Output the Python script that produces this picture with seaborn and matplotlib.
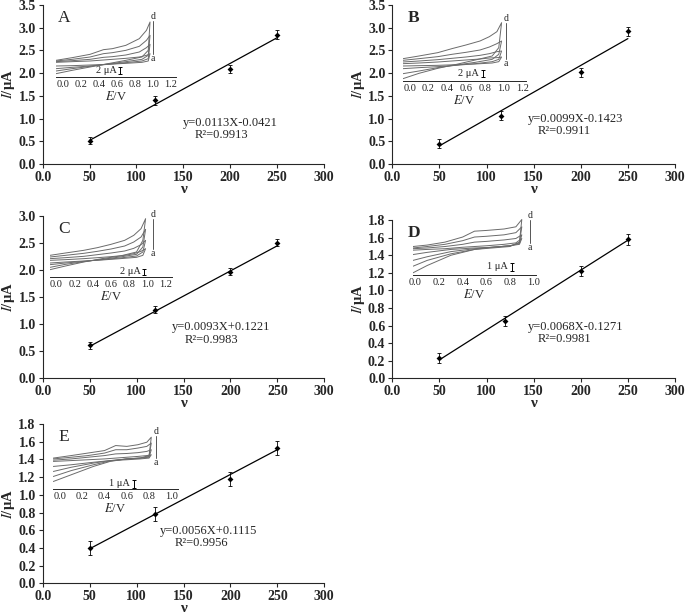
import matplotlib
matplotlib.use("Agg")
import matplotlib.pyplot as plt
import seaborn as sns

W, H = 685, 614

# ---- peak current vs scan rate (main panels) ----
fit_rates = [50, 250]
x_ticks = [0, 50, 100, 150, 200, 250, 300]
x_ticklabels = ["0.0", "50", "100", "150", "200", "250", "300"]

rates_A = [50, 120, 200, 250]
current_A = [0.51, 1.40, 2.09, 2.85]
err_A = [0.08, 0.10, 0.09, 0.10]
fit_A = [0.52, 2.78]
eq_A = "y=0.0113X-0.0421"
r2_A = "R²=0.9913"

rates_B = [50, 115, 200, 250]
current_B = [0.45, 1.06, 2.02, 2.92]
err_B = [0.10, 0.10, 0.10, 0.10]
fit_B = [0.40, 2.76]
eq_B = "y=0.0099X-0.1423"
r2_B = "R²=0.9911"

rates_C = [50, 120, 200, 250]
current_C = [0.61, 1.27, 1.97, 2.51]
err_C = [0.06, 0.06, 0.06, 0.06]
fit_C = [0.59, 2.45]
eq_C = "y=0.0093X+0.1221"
r2_C = "R²=0.9983"

rates_D = [50, 120, 200, 250]
current_D = [0.23, 0.65, 1.22, 1.58]
err_D = [0.06, 0.06, 0.06, 0.06]
fit_D = [0.21, 1.57]
eq_D = "y=0.0068X-0.1271"
r2_D = "R²=0.9981"

rates_E = [50, 120, 200, 250]
current_E = [0.40, 0.78, 1.18, 1.53]
err_E = [0.08, 0.08, 0.08, 0.08]
fit_E = [0.39, 1.51]
eq_E = "y=0.0056X+0.1115"
r2_E = "R²=0.9956"

yticks_35 = [0.0, 0.5, 1.0, 1.5, 2.0, 2.5, 3.0, 3.5]
yticks_30 = [0.0, 0.5, 1.0, 1.5, 2.0, 2.5, 3.0]
yticks_18 = [0.0, 0.2, 0.4, 0.6, 0.8, 1.0, 1.2, 1.4, 1.6, 1.8]

# ---- inset CV loops, curves a..d: forward scan then reverse scan (μA) ----
cv_fwd_E_A = [-0.08, 0.1, 0.3, 0.45, 0.55, 0.7, 0.85, 0.93, 0.97]
cv_rev_E_A = [0.95, 0.88, 0.7, 0.5, 0.3, 0.1, -0.08]
cv_fwd_A = [
    [4.4, 4.6, 4.8, 5.1, 5.3, 5.6, 6.0, 6.5, 7.0],
    [4.6, 4.9, 5.3, 5.9, 6.1, 6.6, 7.5, 8.8, 9.8],
    [4.8, 5.3, 6.0, 7.0, 7.3, 8.0, 9.2, 11.0, 12.5],
    [5.0, 5.8, 6.8, 8.2, 8.5, 9.5, 11.5, 14.0, 16.5],
]
cv_rev_A = [
    [4.8, 4.4, 4.1, 3.8, 3.6, 3.4, 3.3],
    [5.5, 4.8, 4.3, 3.8, 3.3, 2.9, 2.5],
    [6.5, 5.3, 4.6, 3.9, 3.2, 2.5, 1.8],
    [8.0, 6.0, 5.0, 4.0, 3.0, 2.0, 1.0],
]

cv_fwd_E_B = [-0.07, 0.1, 0.3, 0.45, 0.6, 0.75, 0.85, 0.93, 0.98]
cv_rev_E_B = [0.95, 0.88, 0.7, 0.5, 0.3, 0.1, -0.07]
cv_fwd_B = [
    [5.2, 5.4, 5.7, 6.0, 6.3, 6.6, 6.9, 7.0, 7.2],
    [5.7, 6.0, 6.4, 6.8, 7.2, 7.7, 8.2, 8.8, 9.0],
    [6.2, 6.7, 7.3, 8.0, 8.6, 9.3, 10.2, 11.2, 12.0],
    [6.7, 7.5, 8.5, 9.7, 10.8, 12.0, 13.3, 14.8, 17.5],
]
cv_rev_B = [
    [5.8, 5.4, 5.1, 4.9, 4.7, 4.6, 4.5],
    [6.5, 5.8, 5.2, 4.7, 4.3, 4.0, 3.7],
    [8.0, 6.5, 5.6, 4.8, 4.0, 3.0, 2.2],
    [10.0, 7.5, 6.3, 5.0, 3.8, 2.3, 0.7],
]

cv_fwd_E_C = [-0.07, 0.1, 0.3, 0.45, 0.6, 0.75, 0.85, 0.93, 0.98]
cv_rev_E_C = [0.95, 0.88, 0.7, 0.5, 0.3, 0.1, -0.07]
cv_fwd_C = [
    [5.0, 5.2, 5.5, 5.8, 6.1, 6.5, 7.0, 7.7, 8.5],
    [5.5, 5.8, 6.2, 6.7, 7.2, 7.8, 8.6, 9.7, 11.0],
    [6.0, 6.5, 7.1, 7.7, 8.4, 9.3, 10.5, 12.0, 14.3],
    [6.5, 7.2, 8.0, 8.8, 9.8, 11.0, 12.5, 14.5, 17.5],
]
cv_rev_C = [
    [6.5, 5.9, 5.5, 5.1, 4.8, 4.5, 4.2],
    [7.5, 6.3, 5.7, 5.2, 4.7, 4.2, 3.7],
    [9.0, 6.8, 6.0, 5.3, 4.6, 3.8, 2.9],
    [11.0, 7.5, 6.3, 5.5, 4.5, 3.3, 2.2],
]

cv_fwd_E_D = [-0.02, 0.1, 0.25, 0.4, 0.5, 0.6, 0.75, 0.85, 0.9]
cv_rev_E_D = [0.88, 0.8, 0.65, 0.5, 0.3, 0.1, -0.02]
cv_fwd_D = [
    [3.4, 3.5, 3.6, 3.8, 3.9, 4.0, 4.2, 4.4, 5.0],
    [3.6, 3.7, 3.9, 4.2, 4.5, 4.6, 4.8, 5.0, 5.5],
    [3.7, 3.9, 4.2, 4.7, 5.2, 5.3, 5.5, 5.8, 6.6],
    [3.9, 4.1, 4.5, 5.2, 6.0, 6.1, 6.3, 6.6, 7.6],
]
cv_rev_D = [
    [4.2, 4.0, 3.8, 3.7, 3.5, 3.1, 2.8],
    [4.3, 4.0, 3.8, 3.6, 3.2, 2.5, 2.0],
    [4.4, 4.0, 3.8, 3.5, 2.9, 2.0, 1.2],
    [4.5, 3.9, 3.7, 3.5, 2.7, 1.3, 0.3],
]

cv_fwd_E_E = [-0.06, 0.1, 0.25, 0.4, 0.5, 0.6, 0.7, 0.78, 0.82]
cv_rev_E_E = [0.8, 0.72, 0.6, 0.45, 0.3, 0.1, -0.06]
cv_fwd_E = [
    [3.3, 3.4, 3.5, 3.6, 3.7, 3.8, 3.9, 4.0, 4.1],
    [3.45, 3.6, 3.8, 4.0, 4.2, 4.25, 4.35, 4.5, 4.7],
    [3.6, 3.8, 4.0, 4.3, 4.7, 4.7, 4.9, 5.1, 5.5],
    [3.7, 4.0, 4.3, 4.6, 5.2, 5.1, 5.3, 5.6, 6.2],
]
cv_rev_E = [
    [3.7, 3.6, 3.5, 3.4, 3.2, 2.9, 2.7],
    [3.8, 3.7, 3.6, 3.4, 3.1, 2.6, 2.1],
    [3.9, 3.7, 3.6, 3.35, 2.9, 2.2, 1.5],
    [4.0, 3.7, 3.6, 3.3, 2.7, 1.7, 0.9],
]

inset_ticks_12 = [0.0, 0.2, 0.4, 0.6, 0.8, 1.0, 1.2]
inset_ticks_10 = [0.0, 0.2, 0.4, 0.6, 0.8, 1.0]
scale_bar = [2, 2, 2, 1, 1]
scale_text = ["2 μA", "2 μA", "2 μA", "1 μA", "1 μA"]


sns.set_style("ticks")
plt.rcParams["font.family"] = ["Liberation Serif", "DejaVu Serif"]
plt.rcParams["mathtext.fontset"] = "stix"
plt.rcParams["axes.linewidth"] = 0.8


def px_rect(left, right, bottom, top):
    return [left / W, 1 - bottom / H, (right - left) / W, (bottom - top) / H]


fig = plt.figure(figsize=(W / 100, H / 100), dpi=100)

main_specs = [
    ("A", px_rect(42.7, 324, 164, 5), rates_A, current_A, err_A, fit_A, yticks_35, eq_A, r2_A, (0.50, 0.26), (0.54, 0.182), "normal"),
    ("B", px_rect(392.3, 675, 164, 5), rates_B, current_B, err_B, fit_B, yticks_35, eq_B, r2_B, (0.48, 0.283), (0.515, 0.208), "bold"),
    ("C", px_rect(42.7, 324.3, 378.3, 216), rates_C, current_C, err_C, fit_C, yticks_30, eq_C, r2_C, (0.459, 0.316), (0.505, 0.237), "normal"),
    ("D", px_rect(392.3, 675, 378.3, 220), rates_D, current_D, err_D, fit_D, yticks_18, eq_D, r2_D, (0.48, 0.325), (0.515, 0.25), "bold"),
    ("E", px_rect(42.7, 324.3, 583.3, 424), rates_E, current_E, err_E, fit_E, yticks_18, eq_E, r2_E, (0.417, 0.327), (0.47, 0.25), "normal"),
]

for letter, rect, rates, cur, err, fit, yt, eq, r2, eq_pos, r2_pos, weight in main_specs:
    ax = fig.add_axes(rect)
    sns.lineplot(x=fit_rates, y=fit, ax=ax, color="black", linewidth=0.9)
    ax.errorbar(rates, cur, yerr=err, fmt="none", ecolor="black",
                elinewidth=0.6, capsize=1.5, capthick=0.6)
    sns.scatterplot(x=rates, y=cur, ax=ax, color="black", s=9, marker="D",
                    edgecolor="black", linewidth=0, zorder=3)
    ax.set_xlim(0, 300)
    ax.set_ylim(0, yt[-1])
    ax.set_xticks(x_ticks)
    ax.set_xticklabels(x_ticklabels)
    ax.set_yticks(yt)
    ax.set_yticklabels([f"{v:.1f}" for v in yt])
    ax.tick_params(length=3, width=0.8, labelsize=10, pad=2)
    for t in ax.get_xticklabels() + ax.get_yticklabels():
        t.set_fontweight("bold")
    sns.despine(ax=ax)
    ax.set_xlabel("ν", fontsize=11, fontweight="bold", labelpad=-1)
    ax.set_ylabel("$\\mathbf{\\it{I}}$/μA", fontsize=10.5, fontweight="bold", labelpad=1)
    ax.text(0.055, 0.97, letter, transform=ax.transAxes, fontsize=12.5,
            fontweight=weight, va="top", ha="left")
    ax.text(*eq_pos, eq, transform=ax.transAxes, fontsize=9, va="center", ha="left")
    ax.text(*r2_pos, r2, transform=ax.transAxes, fontsize=9, va="center", ha="left")

# insets: (rect in px, xlim, ylim, ticks, E fwd, E rev, fwd curves, rev curves,
#          scale-bar E, scale-bar bottom, d/a line E, d/a bottom, d/a top)
inset_specs = [
    (px_rect(56, 176, 77, 15), (-0.08, 1.26), (0, 18.6), inset_ticks_12,
     cv_fwd_E_A, cv_rev_E_A, cv_fwd_A, cv_rev_A, 0.64, 1.0, 1.0, 7.0, 16.8),
    (px_rect(403, 526, 81, 15), (-0.07, 1.24), (0, 19.8), inset_ticks_12,
     cv_fwd_E_B, cv_rev_E_B, cv_fwd_B, cv_rev_B, 0.78, 1.2, 1.03, 6.7, 17.5),
    (px_rect(50, 172, 277, 215), (-0.07, 1.27), (0, 18.6), inset_ticks_12,
     cv_fwd_E_C, cv_rev_E_C, cv_fwd_C, cv_rev_C, 0.965, 0.5, 1.06, 8.3, 17.5),
    (px_rect(413, 536, 275, 210), (-0.02, 1.02), (0, 8.9), inset_ticks_10,
     cv_fwd_E_D, cv_rev_E_D, cv_fwd_D, cv_rev_D, 0.82, 0.6, 0.97, 4.4, 7.5),
    (px_rect(53, 178, 489, 428), (-0.063, 1.06), (0, 7.3), inset_ticks_10,
     cv_fwd_E_E, cv_rev_E_E, cv_fwd_E, cv_rev_E, 0.665, 0.1, 0.86, 3.7, 6.3),
]

for i, (rect, xl, yl, ticks, e_f, e_r, fwd, rev, sb_x, sb_y, da_x, da_lo, da_hi) in enumerate(inset_specs):
    ins = fig.add_axes(rect)
    ins.patch.set_alpha(0)
    for f_cur, r_cur in zip(fwd, rev):
        ins.plot(e_f + e_r, f_cur + r_cur, color="#6b6b6b", linewidth=0.7)
    ins.set_xlim(*xl)
    ins.set_ylim(*yl)
    ins.set_xticks(ticks)
    ins.set_xticklabels([f"{v:.1f}" for v in ticks])
    ins.set_yticks([])
    ins.tick_params(axis="x", length=0, width=0.6, labelsize=7.5, pad=2)
    for s in ["left", "top", "right"]:
        ins.spines[s].set_visible(False)
    ins.spines["bottom"].set_linewidth(0.7)
    ins.set_xlabel("$\\it{E}$/V", fontsize=9, labelpad=1)
    # scale bar
    ins.plot([sb_x, sb_x], [sb_y, sb_y + scale_bar[i]], color="black", linewidth=0.7,
             marker="_", markersize=3, markeredgewidth=0.7)
    ins.text(sb_x - 0.04, sb_y + scale_bar[i] / 2, scale_text[i], fontsize=7.5,
             ha="right", va="center")
    # a -> d marker
    ins.plot([da_x, da_x], [da_lo, da_hi], color="#555555", linewidth=0.7)
    ins.text(da_x, da_hi, "d", fontsize=7, ha="center", va="bottom")
    ins.text(da_x, da_lo, "a", fontsize=7, ha="center", va="top")

fig.savefig("out.png", dpi=100)
